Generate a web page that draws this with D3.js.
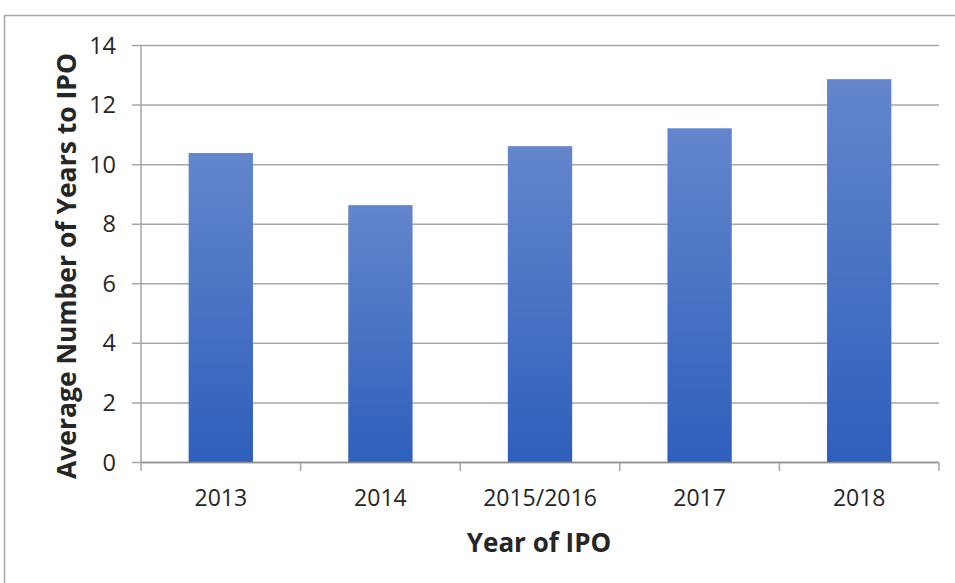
<!DOCTYPE html>
<html>
<head>
<meta charset="utf-8">
<script src="https://cdn.jsdelivr.net/npm/d3@7"></script>
<style>
  body { margin: 0; background: #fff; }
  svg { display: block; }
  .axis text { font-family: "Open Sans", sans-serif; fill: #262626; }
  .axis-title { font-family: "Open Sans", sans-serif; font-weight: bold; fill: #262626; }
</style>
</head>
<body>
<svg id="chart"></svg>
<script>
// data
const categories = ['2013', '2014', '2015/2016', '2017', '2018'];
const avgYears = [10.39, 8.64, 10.62, 11.22, 12.87];
const yTicks = [0, 2, 4, 6, 8, 10, 12, 14];

const width = 955, height = 583;
const margin = { top: 45.5, right: 16, bottom: 120.5, left: 141 };
const innerW = width - margin.left - margin.right;
const innerH = height - margin.top - margin.bottom;

const svg = d3.select('#chart')
    .attr('width', width)
    .attr('height', height);

// outer chart border (only top + left visible in the screenshot)
svg.append('rect')
    .attr('x', 4.5).attr('y', 15.5)
    .attr('width', width + 10).attr('height', height + 10)
    .attr('fill', 'none')
    .attr('stroke', '#a6a6a6')
    .attr('stroke-width', 1.5);

const defs = svg.append('defs');
const grad = defs.append('linearGradient')
    .attr('id', 'barGrad')
    .attr('x1', 0).attr('y1', 0).attr('x2', 0).attr('y2', 1);
grad.append('stop').attr('offset', '0%').attr('stop-color', '#6386cc');
grad.append('stop').attr('offset', '100%').attr('stop-color', '#2e5fbc');

const chart = svg.append('g')
    .attr('transform', `translate(${margin.left},${margin.top})`);

const xScale = d3.scaleBand()
    .domain(categories)
    .range([0, innerW]);

const yScale = d3.scaleLinear()
    .domain([0, 14])
    .range([innerH, 0]);

// gridlines
chart.append('g')
    .selectAll('line')
    .data(yTicks)
    .join('line')
    .attr('x1', -9).attr('x2', innerW)
    .attr('y1', d => yScale(d)).attr('y2', d => yScale(d))
    .attr('stroke', '#a6a6a6')
    .attr('stroke-width', 1.5);

// bars
const barW = xScale.bandwidth() * 0.403;
chart.append('g')
    .selectAll('rect')
    .data(avgYears)
    .join('rect')
    .attr('x', (d, i) => xScale(categories[i]) + (xScale.bandwidth() - barW) / 2)
    .attr('y', d => yScale(d))
    .attr('width', barW)
    .attr('height', d => innerH - yScale(d))
    .attr('fill', 'url(#barGrad)');

// y axis
const yAxis = d3.axisLeft(yScale)
    .tickValues(yTicks)
    .tickSize(0)
    .tickPadding(25);
const yAxisG = chart.append('g').attr('class', 'axis').call(yAxis);
yAxisG.select('.domain').remove();
yAxisG.selectAll('text').attr('font-size', 23.5);
chart.append('line')
    .attr('x1', 0).attr('x2', 0)
    .attr('y1', 0).attr('y2', innerH)
    .attr('stroke', '#a6a6a6').attr('stroke-width', 1.5);

// x axis with boundary ticks
const xAxisG = chart.append('g')
    .attr('class', 'axis')
    .attr('transform', `translate(0,${innerH})`);
xAxisG.append('line')
    .attr('x1', 0).attr('x2', innerW)
    .attr('stroke', '#8c8c8c').attr('stroke-width', 1.5);
xAxisG.selectAll('.bound')
    .data(d3.range(categories.length + 1))
    .join('line')
    .attr('class', 'bound')
    .attr('x1', i => i * xScale.step()).attr('x2', i => i * xScale.step())
    .attr('y1', 0).attr('y2', 8.5)
    .attr('stroke', '#a6a6a6').attr('stroke-width', 1.5);
xAxisG.selectAll('.lbl')
    .data(categories)
    .join('text')
    .attr('class', 'lbl')
    .attr('x', d => xScale(d) + xScale.bandwidth() / 2)
    .attr('y', 43.5)
    .attr('text-anchor', 'middle')
    .attr('font-size', 23)
    .text(d => d);

// axis titles
svg.append('text')
    .attr('class', 'axis-title')
    .attr('x', 539).attr('y', 552)
    .attr('text-anchor', 'middle')
    .attr('font-size', 26)
    .text('Year of IPO');

svg.append('text')
    .attr('class', 'axis-title')
    .attr('transform', 'translate(76,266) rotate(-90)')
    .attr('text-anchor', 'middle')
    .attr('font-size', 26.5)
    .text('Average Number of Years to IPO');
</script>
</body>
</html>
